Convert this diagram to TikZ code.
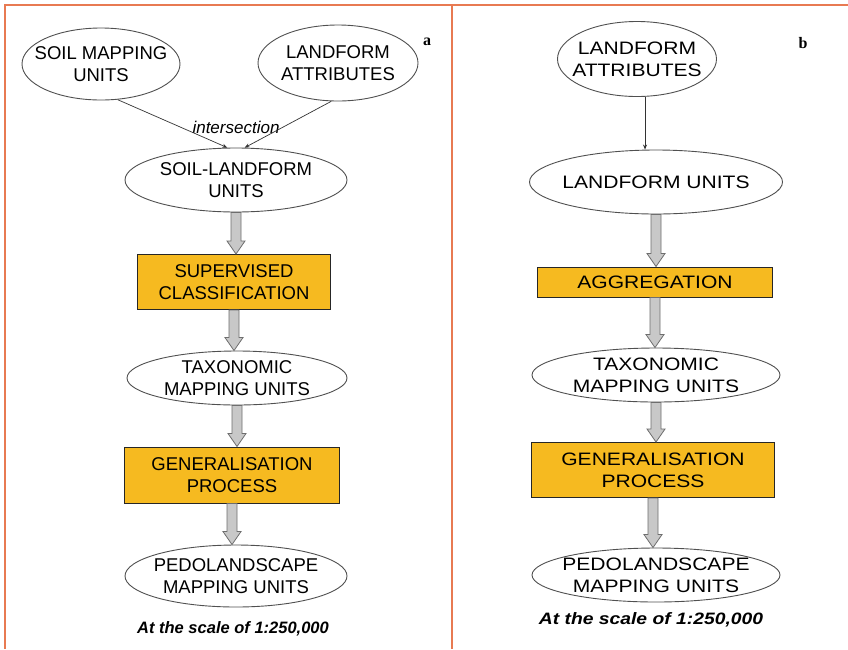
\documentclass[tikz,border=0pt]{standalone}
\usepackage{fontspec}
\setmainfont{Liberation Sans}
\newfontfamily\wfont[FakeStretch=1.17]{Liberation Sans}
\newfontfamily\serifb{Liberation Serif}
\usetikzlibrary{shapes.geometric,calc,arrows.meta}
\definecolor{frameor}{RGB}{232,122,82}
\definecolor{boxfill}{RGB}{246,186,32}
\definecolor{arrfill}{RGB}{200,200,200}
\definecolor{arrline}{RGB}{110,110,110}
\definecolor{ellline}{RGB}{80,80,80}
\tikzset{
 ell/.style={ellipse,draw=ellline,line width=0.9pt,fill=white,inner xsep=-40pt,inner ysep=-12pt,align=center},
 procbox/.style={rectangle,draw=black!85,line width=1pt,fill=boxfill,inner sep=0pt,align=center},
 lfont/.style={font=\fontsize{18.5}{22}\selectfont},
 rfont/.style={font=\wfont\fontsize{18}{22}\selectfont},
 barrow/.style={draw=arrline,fill=arrfill,line width=0.8pt,line join=miter},
 thinarr/.style={draw=black!80,line width=0.7pt,-{Stealth[length=5pt,width=4pt]}},
 panellabel/.style={font=\serifb\bfseries\fontsize{16}{18}\selectfont},
 scaletext/.style={font=\bfseries\itshape\fontsize{16.5}{20}\selectfont},
 rscaletext/.style={font=\wfont\bfseries\itshape\fontsize{16.5}{20}\selectfont},
}
\newcommand\blockarr[2]{%
 \coordinate (tipA) at (#1.south |- #2.north);
 \draw[barrow] ($(#1.south)+(-5pt,0)$) -- ($(tipA)+(-5pt,13pt)$) -- ($(tipA)+(-9pt,13pt)$) -- (tipA)
   -- ($(tipA)+(9pt,13pt)$) -- ($(tipA)+(5pt,13pt)$) -- ($(#1.south)+(5pt,0)$) -- cycle;}
\begin{document}
\begin{tikzpicture}[x=1pt,y=-1pt]
\useasboundingbox (0,0) rectangle (848,649);
\fill[white] (0,0) rectangle (848,649);
\draw[frameor,line width=2pt] (848,5) -- (5,5) -- (5,649);
\draw[frameor,line width=2pt] (452,5) -- (452,649);

% ---------- panel a ----------
\node[panellabel] (la) at (427,42) {a};
\node[ell,lfont,minimum width=158pt,minimum height=72pt] (L1) at (101,64) {SOIL MAPPING\\UNITS};
\node[ell,lfont,minimum width=160pt,minimum height=76pt] (L2) at (338,63) {LANDFORM\\ATTRIBUTES};
\node[ell,lfont,minimum width=222pt,minimum height=64pt] (L3) at (236,180) {SOIL-LANDFORM\\UNITS};
\node[procbox,lfont,minimum width=193pt,minimum height=55pt] (L4) at (234,282) {SUPERVISED\\CLASSIFICATION};
\node[ell,lfont,minimum width=220pt,minimum height=54pt] (L5) at (237,378) {TAXONOMIC\\MAPPING UNITS};
\node[procbox,lfont,minimum width=215pt,minimum height=56pt] (L6) at (232,475) {GENERALISATION\\PROCESS};
\node[ell,lfont,minimum width=222pt,minimum height=62pt] (L7) at (236,576) {PEDOLANDSCAPE\\MAPPING UNITS};
\node[scaletext] (ls) at (233,629) {At the scale of 1:250,000};
\node[font=\itshape\fontsize{17}{20}\selectfont] (inter) at (236,127) {intersection};
\draw[thinarr] (L1.-65) -- (L3.105);
\draw[thinarr] (L2.-100) -- (L3.75);
\blockarr{L3}{L4}
\blockarr{L4}{L5}
\blockarr{L5}{L6}
\blockarr{L6}{L7}

% ---------- panel b ----------
\node[panellabel] (lb) at (803,43) {b};
\node[ell,rfont,minimum width=159pt,minimum height=75pt] (R1) at (637,59) {LANDFORM\\ATTRIBUTES};
\node[ell,rfont,minimum width=253pt,minimum height=64pt] (R2) at (656,182) {LANDFORM UNITS};
\node[procbox,rfont,minimum width=235pt,minimum height=30pt] (R3) at (655,282) {AGGREGATION};
\node[ell,rfont,minimum width=248pt,minimum height=54pt] (R4) at (656,375) {TAXONOMIC\\MAPPING UNITS};
\node[procbox,rfont,minimum width=243pt,minimum height=55pt] (R5) at (653,470) {GENERALISATION\\PROCESS};
\node[ell,rfont,minimum width=248pt,minimum height=54pt] (R6) at (656,575) {PEDOLANDSCAPE\\MAPPING UNITS};
\node[rscaletext] (rs) at (651,620) {At the scale of 1:250,000};
\draw[thinarr] (R1.-78) -- (R1.-78 |- R2.north);
\blockarr{R2}{R3}
\blockarr{R3}{R4}
\blockarr{R4}{R5}
\blockarr{R5}{R6}
\end{tikzpicture}
\end{document}
